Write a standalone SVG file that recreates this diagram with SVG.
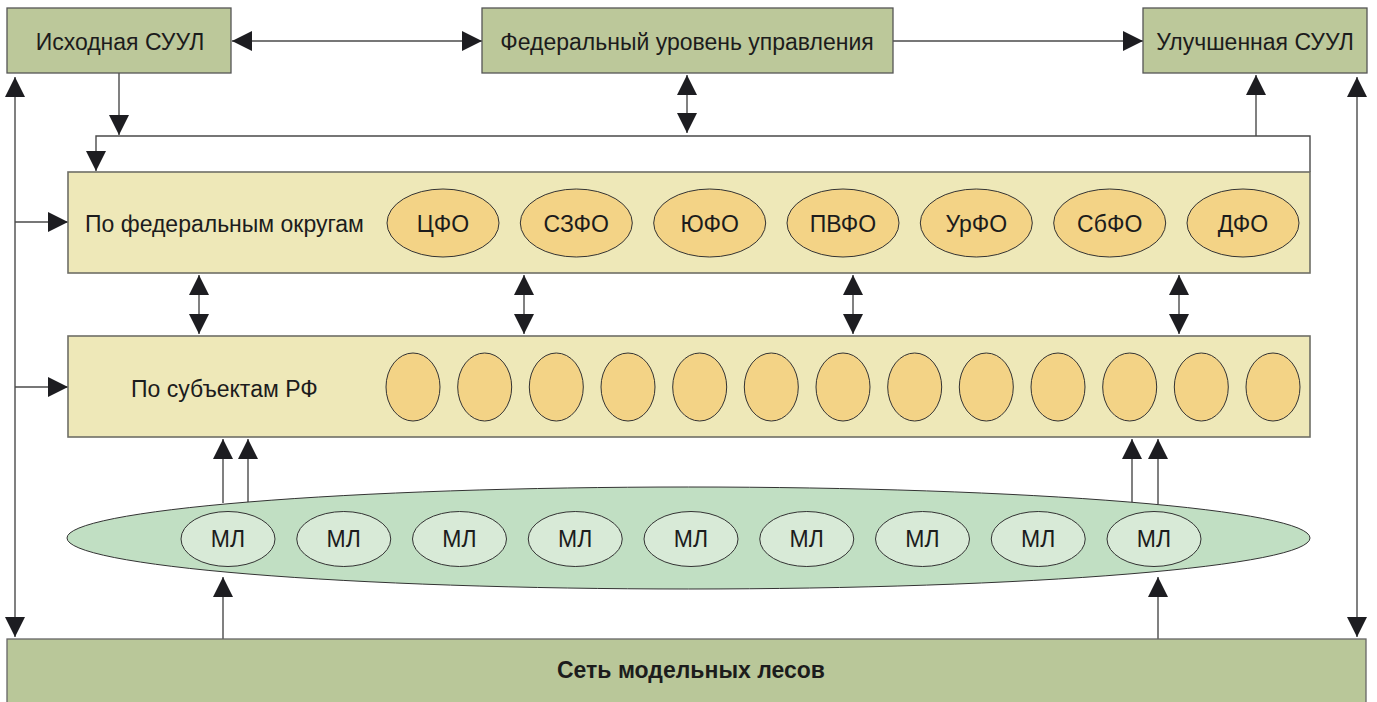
<svg xmlns="http://www.w3.org/2000/svg" width="1377" height="702" viewBox="0 0 1377 702">
<style>
.box{fill:#bcc89a;stroke:#555;stroke-width:1.3}
.lvl{fill:#eee8b8;stroke:#6e6e66;stroke-width:1.6}
.fo{fill:#f3d386;stroke:#333;stroke-width:1}
.ml{fill:#d8ead7;stroke:#333;stroke-width:1}
.t{font-family:"Liberation Sans",Arial,sans-serif;font-size:23px;fill:#1c1c1c}
.tc{text-anchor:middle}
.c{fill:none;stroke:#4a4a4a;stroke-width:1.4}
</style>
<defs>
<marker id="ah" viewBox="0 0 20 20" refX="20" refY="10" markerWidth="20" markerHeight="20" markerUnits="userSpaceOnUse" orient="auto-start-reverse">
<path d="M0,0 L20,10 L0,20 Z" fill="#1d1d21"/>
</marker>
</defs>
<rect width="1377" height="702" fill="#ffffff"/>

<g id="connectors">
<path class="c" d="M232 41 H482" marker-start="url(#ah)" marker-end="url(#ah)"/>
<path class="c" d="M893 41 H1143" marker-end="url(#ah)"/>
<path class="c" d="M119 73 V135" marker-end="url(#ah)"/>
<path class="c" d="M1310 172 V136 H96 V171" marker-end="url(#ah)"/>
<path class="c" d="M1256 136 V75" marker-end="url(#ah)"/>
<path class="c" d="M687 133 V75" marker-start="url(#ah)" marker-end="url(#ah)"/>
<path class="c" d="M15 77 V637" marker-start="url(#ah)" marker-end="url(#ah)"/>
<path class="c" d="M1357 77 V637" marker-start="url(#ah)" marker-end="url(#ah)"/>
<path class="c" d="M15 222 H68" marker-end="url(#ah)"/>
<path class="c" d="M15 387 H68" marker-end="url(#ah)"/>
<path class="c" d="M199 275 V334" marker-start="url(#ah)" marker-end="url(#ah)"/>
<path class="c" d="M524 275 V334" marker-start="url(#ah)" marker-end="url(#ah)"/>
<path class="c" d="M853 275 V334" marker-start="url(#ah)" marker-end="url(#ah)"/>
<path class="c" d="M1179 275 V334" marker-start="url(#ah)" marker-end="url(#ah)"/>
<path class="c" d="M223 503 V439" marker-end="url(#ah)"/>
<path class="c" d="M248 502 V439" marker-end="url(#ah)"/>
<path class="c" d="M1132 502 V439" marker-end="url(#ah)"/>
<path class="c" d="M1158 504 V439" marker-end="url(#ah)"/>
<path class="c" d="M223 639 V577" marker-end="url(#ah)"/>
<path class="c" d="M1158 639 V577" marker-end="url(#ah)"/>
</g>

<g id="node-iskhodnaya">
<rect class="box" x="7" y="8" width="224" height="65"/>
<text class="t tc" x="120" y="50">Исходная СУУЛ</text>
</g>
<g id="node-federal">
<rect class="box" x="482" y="8" width="411" height="65"/>
<text class="t tc" x="687" y="50">Федеральный уровень управления</text>
</g>
<g id="node-uluchshennaya">
<rect class="box" x="1143" y="8" width="224" height="65"/>
<text class="t tc" x="1255" y="50">Улучшенная СУУЛ</text>
</g>

<g id="node-okruga">
<rect class="lvl" x="68" y="172" width="1242" height="101"/>
<text class="t" x="85" y="232">По федеральным округам</text>
<g id="fo-list">
<ellipse class="fo" cx="443" cy="223" rx="56" ry="34"/>
<ellipse class="fo" cx="576.3" cy="223" rx="56" ry="34"/>
<ellipse class="fo" cx="709.7" cy="223" rx="56" ry="34"/>
<ellipse class="fo" cx="843" cy="223" rx="56" ry="34"/>
<ellipse class="fo" cx="976.3" cy="223" rx="56" ry="34"/>
<ellipse class="fo" cx="1109.7" cy="223" rx="56" ry="34"/>
<ellipse class="fo" cx="1243" cy="223" rx="56" ry="34"/>
<text class="t tc" x="443" y="232">ЦФО</text>
<text class="t tc" x="576.3" y="232">СЗФО</text>
<text class="t tc" x="709.7" y="232">ЮФО</text>
<text class="t tc" x="843" y="232">ПВФО</text>
<text class="t tc" x="976.3" y="232">УрФО</text>
<text class="t tc" x="1109.7" y="232">СбФО</text>
<text class="t tc" x="1243" y="232">ДФО</text>
</g>
</g>

<g id="node-subekty">
<rect class="lvl" x="68" y="336" width="1242" height="101"/>
<text class="t" x="131" y="397">По субъектам РФ</text>
<ellipse class="fo" cx="413" cy="387" rx="27" ry="34"/>
<ellipse class="fo" cx="484.7" cy="387" rx="27" ry="34"/>
<ellipse class="fo" cx="556.3" cy="387" rx="27" ry="34"/>
<ellipse class="fo" cx="628" cy="387" rx="27" ry="34"/>
<ellipse class="fo" cx="699.7" cy="387" rx="27" ry="34"/>
<ellipse class="fo" cx="771.3" cy="387" rx="27" ry="34"/>
<ellipse class="fo" cx="843" cy="387" rx="27" ry="34"/>
<ellipse class="fo" cx="914.7" cy="387" rx="27" ry="34"/>
<ellipse class="fo" cx="986.3" cy="387" rx="27" ry="34"/>
<ellipse class="fo" cx="1058" cy="387" rx="27" ry="34"/>
<ellipse class="fo" cx="1129.7" cy="387" rx="27" ry="34"/>
<ellipse class="fo" cx="1201.3" cy="387" rx="27" ry="34"/>
<ellipse class="fo" cx="1273" cy="387" rx="27" ry="34"/>
</g>

<g id="node-ml-group">
<ellipse cx="688.5" cy="538" rx="621.5" ry="51" fill="#c1dfc3" stroke="#333" stroke-width="1"/>
<ellipse class="ml" cx="228" cy="539" rx="47" ry="27.5"/>
<ellipse class="ml" cx="343.75" cy="539" rx="47" ry="27.5"/>
<ellipse class="ml" cx="459.5" cy="539" rx="47" ry="27.5"/>
<ellipse class="ml" cx="575.25" cy="539" rx="47" ry="27.5"/>
<ellipse class="ml" cx="691" cy="539" rx="47" ry="27.5"/>
<ellipse class="ml" cx="806.75" cy="539" rx="47" ry="27.5"/>
<ellipse class="ml" cx="922.5" cy="539" rx="47" ry="27.5"/>
<ellipse class="ml" cx="1038.25" cy="539" rx="47" ry="27.5"/>
<ellipse class="ml" cx="1154" cy="539" rx="47" ry="27.5"/>
<text class="t tc" x="228" y="547">МЛ</text>
<text class="t tc" x="343.75" y="547">МЛ</text>
<text class="t tc" x="459.5" y="547">МЛ</text>
<text class="t tc" x="575.25" y="547">МЛ</text>
<text class="t tc" x="691" y="547">МЛ</text>
<text class="t tc" x="806.75" y="547">МЛ</text>
<text class="t tc" x="922.5" y="547">МЛ</text>
<text class="t tc" x="1038.25" y="547">МЛ</text>
<text class="t tc" x="1154" y="547">МЛ</text>
</g>

<g id="node-set">
<rect x="7" y="639" width="1359" height="70" fill="#b9c799" stroke="#666" stroke-width="1.3"/>
<text class="t tc" x="691" y="678" font-weight="bold">Сеть модельных лесов</text>
</g>
</svg>
